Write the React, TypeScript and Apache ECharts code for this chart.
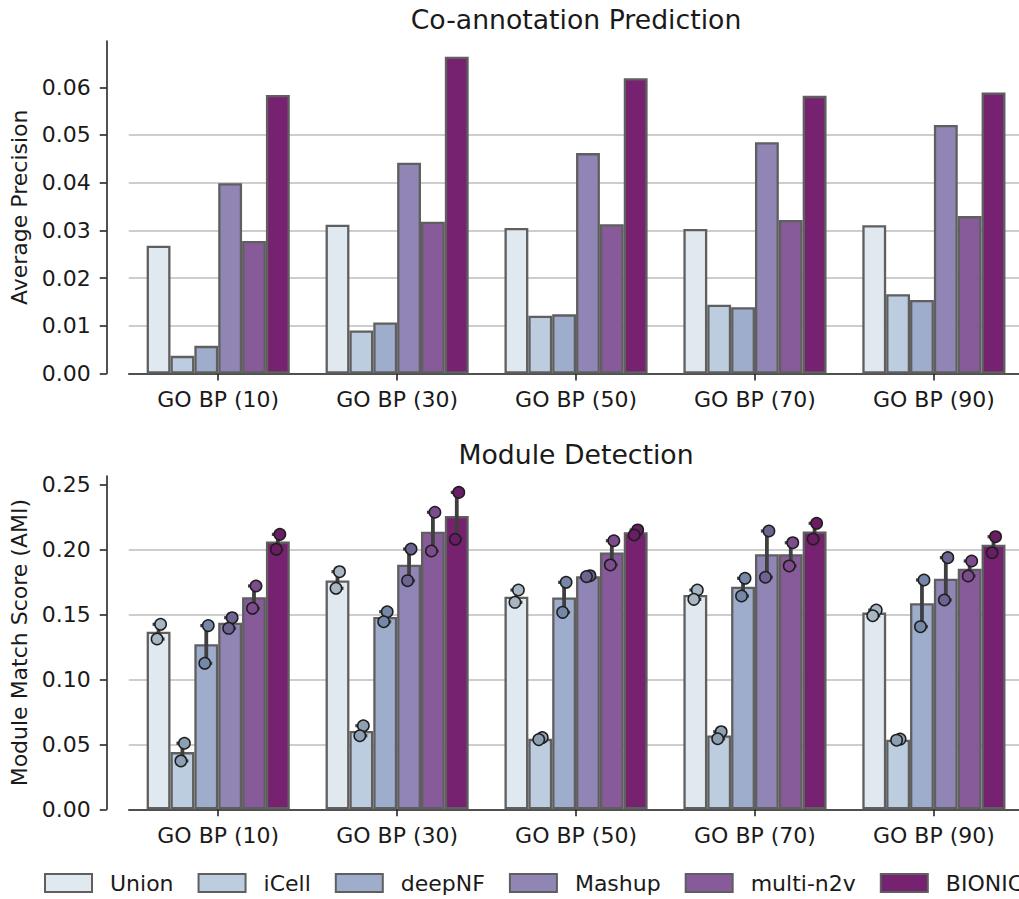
import React, { useEffect, useRef } from 'react';
import * as echarts from 'echarts';

const categories = ['GO BP (10)', 'GO BP (30)', 'GO BP (50)', 'GO BP (70)', 'GO BP (90)'];
const methods = ['Union', 'iCell', 'deepNF', 'Mashup', 'multi-n2v', 'BIONIC'];

// Co-annotation prediction: average precision
const coUnion = [0.0268, 0.0312, 0.0305, 0.0303, 0.0311];
const coICell = [0.0037, 0.0090, 0.0121, 0.0144, 0.0166];
const coDeepNF = [0.0058, 0.0107, 0.0124, 0.0139, 0.0154];
const coMashup = [0.0399, 0.0442, 0.0462, 0.0485, 0.0521];
const coMultiN2v = [0.0278, 0.0318, 0.0313, 0.0322, 0.0330];
const coBionic = [0.0584, 0.0664, 0.0619, 0.0582, 0.0589];

// Module detection: mean AMI
const modUnion = [0.1366, 0.1760, 0.1636, 0.1648, 0.1513];
const modICell = [0.0440, 0.0603, 0.0542, 0.0568, 0.0535];
const modDeepNF = [0.1270, 0.1480, 0.1630, 0.1712, 0.1585];
const modMashup = [0.1435, 0.1882, 0.1792, 0.1962, 0.1774];
const modMultiN2v = [0.1632, 0.2136, 0.1975, 0.1962, 0.1851];
const modBionic = [0.2060, 0.2257, 0.2131, 0.2138, 0.2035];

// Module detection: individual replicate scores (two per bar)
const repUnion = [[0.1423, 0.1310], [0.1828, 0.1700], [0.1687, 0.1592], [0.1687, 0.1615], [0.1533, 0.1489]];
const repICell = [[0.0508, 0.0372], [0.0643, 0.0566], [0.0552, 0.0536], [0.0597, 0.0543], [0.0540, 0.0532]];
const repDeepNF = [[0.1413, 0.1123], [0.1520, 0.1443], [0.1746, 0.1515], [0.1777, 0.1641], [0.1764, 0.1405]];
const repMashup = [[0.1474, 0.1392], [0.2002, 0.1759], [0.1797, 0.1790], [0.2141, 0.1785], [0.1936, 0.1610]];
const repMultiN2v = [[0.1718, 0.1546], [0.2285, 0.1987], [0.2066, 0.1880], [0.2051, 0.1872], [0.1910, 0.1795]];
const repBionic = [[0.2115, 0.2000], [0.2438, 0.2077], [0.2149, 0.2110], [0.2200, 0.2079], [0.2097, 0.1974]];

const coTicks = [0, 0.01, 0.02, 0.03, 0.04, 0.05, 0.06];
const modTicks = [0, 0.05, 0.1, 0.15, 0.2, 0.25];

const coSeries = [coUnion, coICell, coDeepNF, coMashup, coMultiN2v, coBionic];
const modSeries = [modUnion, modICell, modDeepNF, modMashup, modMultiN2v, modBionic];
const repSeries = [repUnion, repICell, repDeepNF, repMashup, repMultiN2v, repBionic];

const barColors = ['#e0e8f0', '#bccddf', '#9eadcb', '#9085b4', '#875a99', '#762270'];
const dotColors = ['#a8b5c2', '#8d9fb3', '#7688a8', '#6e6391', '#7e4b8f', '#6a1c65'];

const FONT = 'DejaVu Sans';
const TEXT = '#1a1a1a';
const AXIS = '#262626';

function makeYAxis(gridIndex: number, max: number, interval: number, ticks: number[], name: string) {
  return {
    type: 'value',
    gridIndex,
    min: 0,
    max,
    interval,
    offset: 22,
    name,
    nameLocation: 'middle',
    nameGap: 76,
    nameMoveOverlap: false,
    nameTextStyle: { fontFamily: FONT, fontSize: 22, color: TEXT },
    axisLine: { show: true, lineStyle: { color: AXIS, width: 1.6 } },
    axisTick: { show: true, length: 7, lineStyle: { color: AXIS, width: 1.6 }, customValues: ticks },
    axisLabel: {
      margin: 16,
      fontFamily: FONT,
      fontSize: 22,
      color: TEXT,
      customValues: ticks,
      formatter: (v: number) => v.toFixed(2),
    },
    splitLine: { show: true, showMaxLine: false, lineStyle: { color: '#bdbdbd', width: 1.6 } },
  };
}

function makeXAxis(gridIndex: number) {
  return {
    type: 'category',
    gridIndex,
    data: categories,
    boundaryGap: true,
    axisLine: { show: true, lineStyle: { color: AXIS, width: 1.6 } },
    axisTick: { show: true, alignWithLabel: true, length: 7, lineStyle: { color: AXIS, width: 1.6 } },
    axisLabel: { margin: 15, fontFamily: FONT, fontSize: 22, color: TEXT, interval: 0 },
    splitLine: { show: false },
  };
}

function renderReps(_params: any, api: any) {
  const cat = api.value(0);
  const s = api.value(1);
  const a = api.value(2);
  const b = api.value(3);
  const band = api.size([1, 0])[0];
  const bw = (band * 0.8) / 6;
  const cx = api.coord([cat, 0])[0] + (s - 2.5) * bw;
  const ya = api.coord([cat, a])[1];
  const yb = api.coord([cat, b])[1];
  const top = Math.min(ya, yb);
  const bot = Math.max(ya, yb);
  const capW = 6;
  const errColor = '#3f3f3f';
  return {
    type: 'group',
    children: [
      { type: 'line', shape: { x1: cx, y1: top, x2: cx, y2: bot }, style: { stroke: errColor, lineWidth: 3.8 } },
      { type: 'line', shape: { x1: cx - capW, y1: top, x2: cx + capW, y2: top }, style: { stroke: errColor, lineWidth: 3.2 } },
      { type: 'line', shape: { x1: cx - capW, y1: bot, x2: cx + capW, y2: bot }, style: { stroke: errColor, lineWidth: 3.2 } },
      { type: 'circle', shape: { cx: cx + 2, cy: ya, r: 5.7 }, style: { fill: dotColors[s], stroke: '#1e1e1e', lineWidth: 1.5 } },
      { type: 'circle', shape: { cx: cx - 1.5, cy: yb, r: 5.7 }, style: { fill: dotColors[s], stroke: '#1e1e1e', lineWidth: 1.5 } },
    ],
  };
}

export default function App() {
  const ref = useRef<HTMLDivElement>(null);

  useEffect(() => {
    if (!ref.current) return;
    const chart = echarts.init(ref.current, undefined, { renderer: 'svg' });

    const barItemStyle = (i: number) => ({ color: barColors[i], borderColor: '#5f5f5f', borderWidth: 2.3 });

    const series: any[] = [];
    methods.forEach((m, i) => {
      series.push({
        name: m,
        type: 'bar',
        xAxisIndex: 0,
        yAxisIndex: 0,
        data: coSeries[i],
        barGap: '0%',
        barCategoryGap: '20%',
        itemStyle: barItemStyle(i),
        emphasis: { disabled: true },
      });
    });
    methods.forEach((m, i) => {
      series.push({
        name: m,
        type: 'bar',
        xAxisIndex: 1,
        yAxisIndex: 1,
        data: modSeries[i],
        barGap: '0%',
        barCategoryGap: '20%',
        itemStyle: barItemStyle(i),
        emphasis: { disabled: true },
      });
    });

    const repData: number[][] = [];
    repSeries.forEach((rows, s) => {
      rows.forEach((pair, c) => {
        repData.push([c, s, pair[0], pair[1]]);
      });
    });
    series.push({
      name: 'replicates',
      type: 'custom',
      xAxisIndex: 1,
      yAxisIndex: 1,
      data: repData,
      encode: { x: 0, y: 2 },
      renderItem: renderReps,
      z: 5,
      silent: true,
    });

    const gridLeft = 128.75;
    const gridRight = 1019 - 1023.35;

    chart.setOption({
      animation: false,
      backgroundColor: '#ffffff',
      grid: [
        { left: gridLeft, right: gridRight, top: 41, height: 332.5, outerBoundsMode: 'none', containLabel: false },
        { left: gridLeft, right: gridRight, top: 476, height: 333.3, outerBoundsMode: 'none', containLabel: false },
      ],
      xAxis: [makeXAxis(0), makeXAxis(1)],
      yAxis: [
        makeYAxis(0, 0.0697, 0.01, coTicks, 'Average Precision'),
        makeYAxis(1, 0.2564, 0.05, modTicks, 'Module Match Score (AMI)'),
      ],
      legend: {
        data: methods,
        left: 44,
        top: 872,
        width: 1400,
        padding: 0,
        orient: 'horizontal',
        icon: 'rect',
        itemWidth: 47,
        itemHeight: 18,
        itemGap: 24,
        selectedMode: false,
        textStyle: { fontFamily: FONT, fontSize: 22, color: TEXT, padding: [0, 0, 0, 13] },
      },
      graphic: [
        {
          type: 'text',
          x: 576,
          y: 19.3,
          style: {
            text: 'Co-annotation Prediction',
            fontFamily: FONT,
            fontSize: 26.7,
            fill: TEXT,
            textAlign: 'center',
            textVerticalAlign: 'middle',
            align: 'center',
            verticalAlign: 'middle',
          },
        },
        {
          type: 'text',
          x: 576,
          y: 454,
          style: {
            text: 'Module Detection',
            fontFamily: FONT,
            fontSize: 26.7,
            fill: TEXT,
            textAlign: 'center',
            textVerticalAlign: 'middle',
            align: 'center',
            verticalAlign: 'middle',
          },
        },
      ],
      series,
    });

    return () => {
      chart.dispose();
    };
  }, []);

  return (
    <div
      ref={ref}
      style={{ position: 'absolute', left: 0, top: 0, width: 1019, height: 899, background: '#ffffff' }}
    />
  );
}
